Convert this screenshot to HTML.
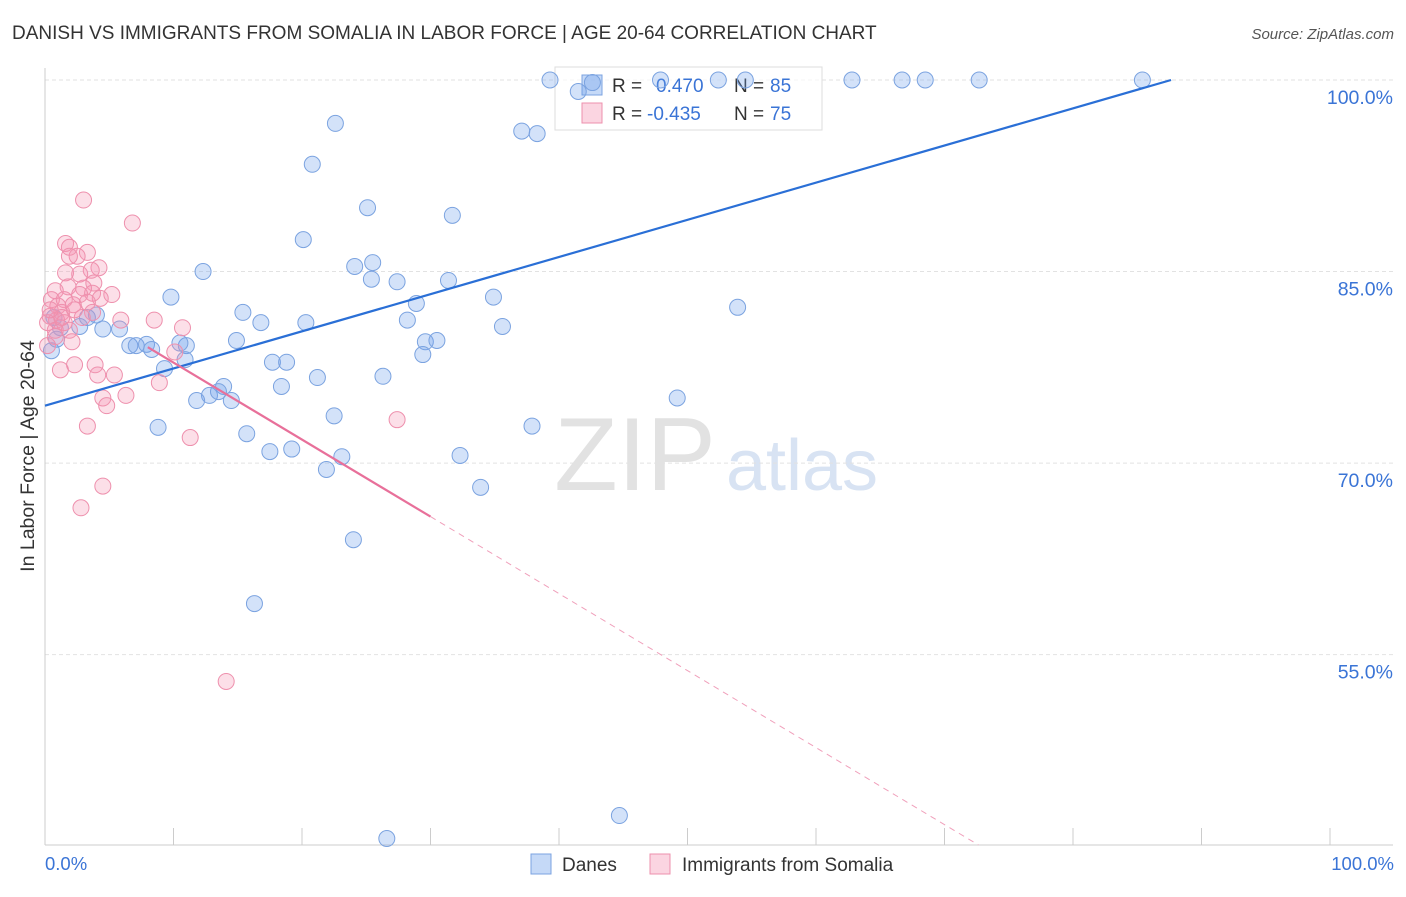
<!DOCTYPE html>
<html><head><meta charset="utf-8"><style>
body{margin:0;background:#fff;font-family:"Liberation Sans",sans-serif}
svg text{font-family:"Liberation Sans",sans-serif}
</style></head><body>
<svg id="chart" width="1406" height="892" xmlns="http://www.w3.org/2000/svg">
<text x="12" y="39" font-size="19" fill="#333">DANISH VS IMMIGRANTS FROM SOMALIA IN LABOR FORCE | AGE 20-64 CORRELATION CHART</text>
<text x="1394" y="39" font-size="15" fill="#555" font-style="italic" text-anchor="end">Source: ZipAtlas.com</text>
<text x="34" y="456" font-size="19.5" fill="#333" text-anchor="middle" transform="rotate(-90 34 456)">In Labor Force | Age 20-64</text>
<g><text x="635" y="490" font-size="104" fill="#e2e2e2" font-family="Liberation Serif" text-anchor="middle">ZIP</text><text x="802" y="490" font-size="72" fill="#d8e3f3" text-anchor="middle">atlas</text></g>
<g id="grid"></g>
<g>
<rect x="555" y="67" width="267" height="63" fill="#fff" fill-opacity="0.7" stroke="#ddd"/>
<rect x="582" y="75" width="20" height="20" fill="rgba(110,160,235,0.4)" stroke="#7ba3e0"/>
<text x="612" y="92" font-size="19" fill="#333">R = </text><text x="656" y="92" font-size="19" fill="#3a74d6">0.470</text>
<text x="734" y="92" font-size="19" fill="#333">N = </text><text x="770" y="92" font-size="19" fill="#3a74d6">85</text>
<rect x="582" y="103" width="20" height="20" fill="rgba(245,150,180,0.4)" stroke="#ee90ad"/>
<text x="612" y="120" font-size="19" fill="#333">R = </text><text x="647" y="120" font-size="19" fill="#3a74d6">-0.435</text>
<text x="734" y="120" font-size="19" fill="#333">N = </text><text x="770" y="120" font-size="19" fill="#3a74d6">75</text>
</g>
<g id="marks"></g><g id="lines"></g>
<g>
<rect x="531" y="854" width="20" height="20" fill="rgba(110,160,235,0.4)" stroke="#7ba3e0"/>
<text x="562" y="871" font-size="19" fill="#333">Danes</text>
<rect x="650" y="854" width="20" height="20" fill="rgba(245,150,180,0.4)" stroke="#ee90ad"/>
<text x="682" y="871" font-size="19" fill="#333">Immigrants from Somalia</text>
</g>
<text x="45" y="870" font-size="18.5" fill="#3a74d6">0.0%</text>
<text x="1394" y="870" font-size="18.5" fill="#3a74d6" text-anchor="end">100.0%</text>
</svg>
<script>
const yTicks=[100,85,70,55];
const yTickLabels=["100.0%","85.0%","70.0%","55.0%"];
const xTicks=[0,10,20,30,40,50,60,70,80,90,100];
const danesX=[39.3,47.9,52.4,54.5,62.8,66.7,68.5,72.7,85.4,41.5,42.6,22.6,37.1,38.3,20.8,25.1,31.7,20.1,25.5,24.1,25.4,27.4,31.4,12.3,9.8,34.9,28.9,53.9,15.4,16.8,20.3,28.2,35.6,5.8,4.5,2.7,3.3,4.0,14.9,29.6,30.5,29.4,6.6,7.1,7.9,8.3,11.0,10.5,17.7,18.8,10.9,9.3,18.4,21.2,26.3,13.9,12.8,13.5,11.8,14.5,49.2,22.5,8.8,15.7,37.9,17.5,19.2,23.1,32.3,21.9,33.9,24.0,16.3,44.7,26.6,0.5,0.9,1.2,0.7];
const danesY=[100,100,100,100,100,100,100,100,100,99.1,99.8,96.6,96.0,95.8,93.4,90.0,89.4,87.5,85.7,85.4,84.4,84.2,84.3,85.0,83.0,83.0,82.5,82.2,81.8,81.0,81.0,81.2,80.7,80.5,80.5,80.7,81.4,81.6,79.6,79.5,79.6,78.5,79.2,79.2,79.3,78.9,79.2,79.4,77.9,77.9,78.1,77.4,76.0,76.7,76.8,76.0,75.3,75.6,74.9,74.9,75.1,73.7,72.8,72.3,72.9,70.9,71.1,70.5,70.6,69.5,68.1,64.0,59.0,42.4,40.6,78.8,79.7,80.6,81.4];
const somX=[3.0,6.8,1.6,1.9,3.3,2.5,1.9,4.2,3.6,1.6,2.7,3.8,1.8,3.0,5.2,3.7,2.7,0.8,4.3,0.5,1.5,3.3,1.0,2.2,3.7,1.3,0.4,0.9,2.9,1.5,0.2,0.8,1.9,5.9,8.5,10.7,2.1,0.8,0.2,10.1,1.2,2.3,3.9,4.1,5.4,8.9,6.3,4.5,4.8,3.3,11.3,27.4,4.5,2.8,14.1,1.3,2.3,0.4];
const somY=[90.6,88.8,87.2,86.9,86.5,86.2,86.2,85.3,85.1,84.9,84.8,84.1,83.8,83.7,83.2,83.3,83.2,83.5,82.9,82.8,82.8,82.6,82.3,82.4,81.8,81.8,81.5,81.2,81.4,81.0,81.0,80.4,80.4,81.2,81.2,80.6,79.5,79.9,79.2,78.7,77.3,77.7,77.7,76.9,76.9,76.3,75.3,75.1,74.5,72.9,72.0,73.4,68.2,66.5,52.9,81.4,82.0,82.0];
const danesTrend=[74.5,103.6];
const somTrend=[83.9,23.6];
const somSolidEnd=30;
const NS="http://www.w3.org/2000/svg";
const X=v=>45+v*12.85, Y=v=>80+(100-v)*12.77;
function mk(tag,attrs,parent){const e=document.createElementNS(NS,tag);for(const k in attrs)e.setAttribute(k,attrs[k]);parent.appendChild(e);return e;}
const grid=document.getElementById('grid'),marks=document.getElementById('marks'),lines=document.getElementById('lines');
yTicks.forEach((t,i)=>{
 const l=mk('line',{x1:45,x2:1393,y1:Y(t),y2:Y(t),stroke:'#e2e2e2','stroke-dasharray':'4,3'},grid);
 
 
 const tx=mk('text',{x:1393,y:Y(t)+24,'font-size':19.5,fill:'#3a74d6','text-anchor':'end'},grid);
 tx.textContent=yTickLabels[i];
 
 
});
mk('line',{x1:45,x2:45,y1:68,y2:845,stroke:'#ccc'},grid);
mk('line',{x1:45,x2:1393,y1:845,y2:845,stroke:'#ccc'},grid);
xTicks.forEach(t=>{
 const l=mk('line',{x1:X(t),x2:X(t),y1:828,y2:845,stroke:'#ccc'},grid);
 
 
});
danesX.forEach((v,i)=>{
 const c=mk('circle',{cx:X(v),cy:Y(danesY[i]),r:8,fill:'rgba(110,160,235,0.3)',stroke:'#7ba3e0','stroke-width':1},marks);
 
 
});
somX.forEach((v,i)=>{
 const c=mk('circle',{cx:X(v),cy:Y(somY[i]),r:8,fill:'rgba(245,150,180,0.3)',stroke:'#ee90ad','stroke-width':1},marks);
 
 
});
const dEnd=(100-danesTrend[0])/(danesTrend[1]-danesTrend[0])*100;
const dl=mk('line',{x1:X(0),y1:Y(danesTrend[0]),x2:X(dEnd),y2:Y(100),stroke:'#2a6fd6','stroke-width':2.2},lines);


const sAt=x=>somTrend[0]+(somTrend[1]-somTrend[0])*x/100;
const sStart=8;
const sl=mk('line',{x1:X(sStart),y1:Y(sAt(sStart)),x2:X(somSolidEnd),y2:Y(sAt(somSolidEnd)),stroke:'#e8709a','stroke-width':2.2},lines);


const yb=40.1, xb=(yb-somTrend[0])/(somTrend[1]-somTrend[0])*100;
const sd=mk('line',{x1:X(somSolidEnd),y1:Y(sAt(somSolidEnd)),x2:X(xb),y2:Y(yb),stroke:'#f0a0bb','stroke-width':1,'stroke-dasharray':'6,5'},lines);


</script>
</body></html>
